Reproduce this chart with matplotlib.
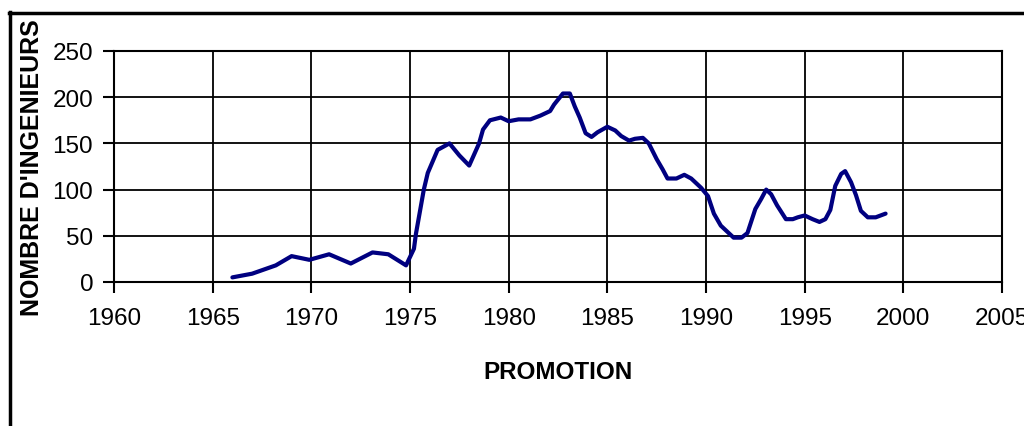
import matplotlib.pyplot as plt
from matplotlib.lines import Line2D

plt.rcParams['font.family'] = ['Liberation Sans', 'DejaVu Sans']

# valeurs
promotion = [1966.0, 1967.0, 1968.2, 1969.0, 1969.9, 1970.9, 1972.0, 1973.1, 1973.9,
             1974.8, 1975.2, 1975.3, 1975.7, 1975.9, 1976.4, 1977.0, 1977.5, 1978.0,
             1978.5, 1978.7, 1979.05, 1979.6, 1980.0, 1980.5, 1981.1, 1981.6, 1982.1,
             1982.3, 1982.75, 1983.1, 1983.35, 1983.6, 1983.9, 1984.2, 1984.5, 1985.0,
             1985.4, 1985.7, 1986.1, 1986.4, 1986.8, 1987.1, 1987.5, 1987.8, 1988.05,
             1988.5, 1988.9, 1989.25, 1989.75, 1990.1, 1990.4, 1990.75, 1991.4, 1991.8,
             1992.1, 1992.5, 1992.8, 1993.05, 1993.3, 1993.6, 1994.05, 1994.4, 1994.65,
             1995.0, 1995.4, 1995.75, 1996.05, 1996.3, 1996.55, 1996.85, 1997.05, 1997.35,
             1997.6, 1997.85, 1998.2, 1998.6, 1999.1]
ingenieurs = [5, 9, 18, 28, 24, 30, 20, 32, 30,
              18, 36, 52, 100, 118, 143, 150, 137, 126,
              150, 165, 175, 178, 174, 176, 176, 180, 185,
              192, 204, 204, 190, 178, 161, 157, 162, 168,
              164, 158, 153, 155, 156, 150, 133, 122, 112,
              112, 116, 112, 102, 93, 74, 61, 48, 48,
              53, 79, 90, 100, 95, 83, 68, 68, 70,
              72, 68, 65, 68, 78, 104, 117, 120, 108,
              94, 77, 70, 70, 74]

fig = plt.figure(figsize=(10.24, 4.27), dpi=100)
ax = fig.add_axes([114 / 1024, 1 - 283 / 427, 888 / 1024, 231 / 427])

ax.plot(promotion, ingenieurs, color='#000080', linewidth=3.0, solid_joinstyle='round',
        solid_capstyle='round', zorder=3)

ax.set_xlim(1960, 2005)
ax.set_ylim(0, 250)
ax.set_xticks(range(1960, 2006, 5))
ax.set_yticks(range(0, 251, 50))
ax.grid(True, color='black', linewidth=1.3)
for s in ax.spines.values():
    s.set_linewidth(1.5)
ax.tick_params(labelsize=17.5, length=8, width=1.5, pad=7)
ax.tick_params(axis='x', pad=10)

ax.set_xlabel('PROMOTION', fontsize=17.5, fontweight='bold', labelpad=22)
ax.set_ylabel("NOMBRE D'INGENIEURS", fontsize=18, fontweight='bold')
ax.yaxis.set_label_coords(-70 / 888, 0.5)

# cadre de la zone du graphique
fig.add_artist(Line2D([9.5 / 1024, 9.5 / 1024], [0, 1 - 13 / 427], color='black',
                      linewidth=2.5, transform=fig.transFigure))
fig.add_artist(Line2D([8.5 / 1024, 1], [1 - 13.5 / 427, 1 - 13.5 / 427], color='black',
                      linewidth=2.5, transform=fig.transFigure))

fig.savefig('out.png', dpi=100)
